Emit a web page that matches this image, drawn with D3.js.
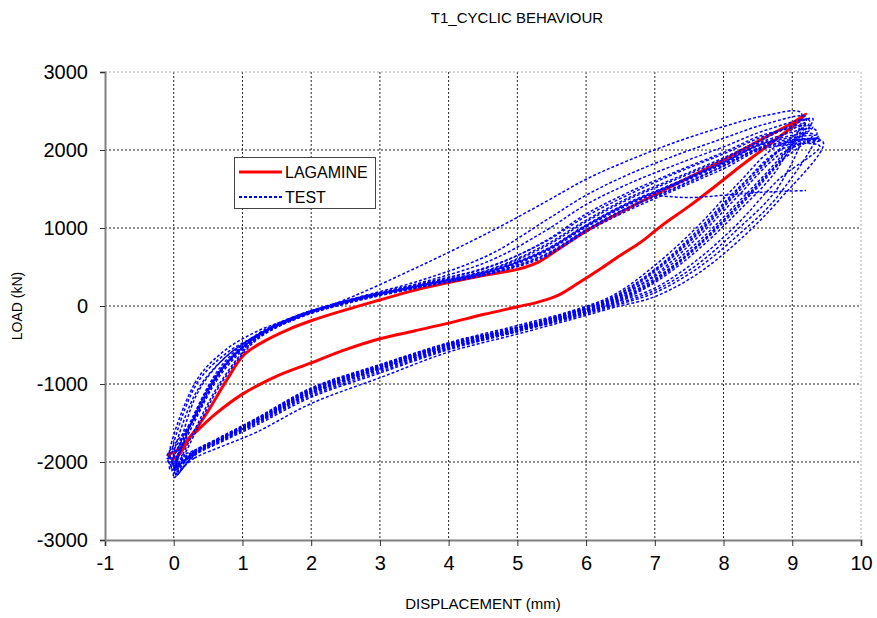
<!DOCTYPE html>
<html>
<head>
<meta charset="utf-8">
<script src="https://cdn.jsdelivr.net/npm/d3@7/dist/d3.min.js"></script>
<style>
  body { margin: 0; background: #fff; }
  text { font-family: "Liberation Sans", Arial, sans-serif; fill: #000; }
</style>
</head>
<body>
<script>
// tick labels
const xTicks = [-1, 0, 1, 2, 3, 4, 5, 6, 7, 8, 9, 10]
const yTicks = [-3000, -2000, -1000, 0, 1000, 2000, 3000]

// LAGAMINE simulation, one closed loop [displacement mm, load kN]
const lagamine = [
  [-0.08, -1900], [-0.02, -1960], [0.1, -1880], [0.24, -1680], [0.34, -1600],
  [0.6, -1390], [1.0, -1130], [1.5, -900], [2.0, -730], [2.5, -560],
  [3.0, -420], [3.5, -320], [4.0, -220], [4.5, -110], [5.0, -10],
  [5.3, 50], [5.6, 140], [5.9, 300], [6.2, 470], [6.5, 650],
  [6.8, 820], [7.1, 1030], [7.5, 1280], [7.9, 1550], [8.2, 1760],
  [8.5, 1960], [8.8, 2160], [9.0, 2300], [9.2, 2460],
  [9.03, 2363], [8.5, 2110], [8.0, 1870], [7.5, 1650], [7.04, 1445],
  [6.5, 1200], [6.0, 960], [5.6, 730], [5.3, 560], [5.0, 470],
  [4.5, 390], [4.0, 300], [3.5, 200], [3.0, 77], [2.5, -50],
  [2.03, -180], [1.65, -308], [1.3, -460], [1.02, -628], [0.77, -950],
  [0.48, -1375], [0.28, -1630], [0.12, -1800], [0.0, -1880]
]

// TEST cycles: loading branch x-grid, unloading branch x-grid
const testLowerX = [0.3, 0.7, 1.2, 2, 3, 4, 5, 5.8, 6.4, 7, 7.6, 8.2, 8.8]
const testUpperX = [8.6, 8.0, 7.3, 6.6, 6.0, 5.4, 4.6, 3.6, 2.6, 1.8, 1.2, 0.7, 0.3]

const testMins = [
  [0, -2050], [-0.05, -2100], [0.02, -2150], [-0.08, -2000], [0, -2200],
  [-0.1, -1950], [0.05, -2120], [-0.03, -2080], [0.03, -2180], [-0.06, -2020],
  [0.01, -2100], [-0.04, -2060], [0.04, -2160], [-0.02, -2120]
]
const testPeaks = [
  [9.13, 2474], [9.2, 2420], [9.25, 2380], [9.3, 2300], [9.35, 2250],
  [9.4, 2150], [9.45, 2100], [9.3, 2200], [9.4, 2050], [9.2, 2350],
  [9.3, 2400], [9.38, 2180], [9.15, 2300], [9.42, 2120]
]
const testLowerY = [
  [-1900, -1720, -1500, -1130, -820, -540, -320, -130, 30, 300, 700, 1200, 1780],
  [-1880, -1700, -1480, -1100, -790, -510, -300, -110, 60, 330, 760, 1280, 1850],
  [-1860, -1680, -1450, -1060, -760, -480, -270, -80, 100, 380, 800, 1320, 1880],
  [-1870, -1690, -1460, -1080, -770, -490, -280, -90, 90, 440, 900, 1450, 1980],
  [-1920, -1740, -1530, -1170, -860, -560, -330, -150, 0, 170, 470, 900, 1420],
  [-1850, -1670, -1440, -1050, -750, -470, -250, -60, 140, 520, 1000, 1560, 2060],
  [-1950, -1800, -1620, -1250, -920, -590, -360, -170, -20, 120, 400, 820, 1350],
  [-1880, -1700, -1470, -1090, -780, -500, -290, -100, 70, 350, 760, 1280, 1830],
  [-1900, -1710, -1490, -1110, -800, -520, -310, -120, 40, 230, 580, 1050, 1620],
  [-1860, -1690, -1460, -1070, -770, -490, -280, -70, 120, 470, 950, 1500, 2000],
  [-1890, -1710, -1490, -1120, -810, -530, -315, -125, 45, 320, 740, 1250, 1820],
  [-1870, -1690, -1470, -1090, -785, -505, -295, -95, 80, 400, 860, 1400, 1930],
  [-1910, -1730, -1510, -1150, -840, -550, -325, -140, 15, 200, 520, 980, 1530],
  [-1865, -1685, -1455, -1075, -765, -485, -275, -85, 110, 460, 920, 1480, 1990]
]
const testUpperY = [
  [2440, 2300, 2100, 1860, 1625, 1330, 950, 520, 120, -150, -380, -700, -1150],
  [2330, 2150, 1930, 1680, 1420, 1090, 660, 330, 90, -130, -380, -650, -1050],
  [2250, 2040, 1810, 1560, 1300, 960, 580, 300, 80, -140, -400, -800, -1400],
  [2200, 1970, 1720, 1450, 1180, 830, 500, 280, 70, -150, -410, -830, -1450],
  [2120, 1880, 1620, 1360, 1080, 760, 460, 270, 80, -130, -390, -800, -1420],
  [2080, 1830, 1560, 1300, 1020, 700, 440, 260, 70, -140, -400, -820, -1440],
  [2050, 1800, 1520, 1260, 980, 660, 420, 250, 60, -150, -420, -950, -1600],
  [2100, 1850, 1580, 1320, 1040, 720, 450, 265, 75, -120, -370, -760, -1380],
  [2020, 1760, 1490, 1220, 950, 630, 410, 240, 50, -160, -440, -980, -1650],
  [2060, 1820, 1550, 1290, 1010, 690, 430, 255, 65, -135, -330, -600, -1000],
  [2150, 1900, 1640, 1380, 1100, 780, 470, 275, 85, -125, -385, -790, -1410],
  [2090, 1840, 1570, 1310, 1030, 710, 445, 262, 72, -138, -398, -815, -1435],
  [2180, 1950, 1700, 1420, 1150, 820, 510, 290, 90, -120, -380, -700, -1200],
  [2040, 1790, 1510, 1250, 970, 650, 415, 248, 58, -152, -425, -860, -1490]
]
// a short partial unloading trace near the peak
const testPartial = [[7.0, 1420], [7.5, 1390], [8.0, 1420], [8.6, 1460], [9.2, 1480]]

const m = {
  width: 877,
  height: 618,
  left: 105,
  right: 861,
  top: 72,
  bottom: 540
}

const svg = d3.select('body').append('svg')
  .attr('width', m.width)
  .attr('height', m.height)

const x = d3.scaleLinear().domain([-1, 10]).range([m.left, m.right])
const y = d3.scaleLinear().domain([-3000, 3000]).range([m.bottom, m.top])

// grid
const grid = svg.append('g')
grid.selectAll('.vg')
  .data(xTicks.slice(1))
  .enter()
  .append('line')
    .attr('x1', d => x(d)).attr('x2', d => x(d))
    .attr('y1', m.top).attr('y2', m.bottom)
    .attr('stroke', d => d === 10 ? '#b0b0b0' : '#222')
    .attr('stroke-dasharray', '2,2')
grid.selectAll('.hg')
  .data(yTicks.slice(1))
  .enter()
  .append('line')
    .attr('x1', m.left).attr('x2', m.right)
    .attr('y1', d => y(d)).attr('y2', d => y(d))
    .attr('stroke', d => d === 3000 ? '#b0b0b0' : '#222')
    .attr('stroke-dasharray', '2,2')

// axes (plain hyphen minus, no thousands separator)
const fmt = d => String(d)
const xAxis = svg.append('g')
  .attr('transform', `translate(0,${m.bottom})`)
  .call(d3.axisBottom(x).tickValues(xTicks).tickFormat(fmt).tickSize(6).tickPadding(10))
const yAxis = svg.append('g')
  .attr('transform', `translate(${m.left},0)`)
  .call(d3.axisLeft(y).tickValues(yTicks).tickFormat(fmt).tickSize(5).tickPadding(12))

;[xAxis, yAxis].forEach(a => {
  a.select('.domain').attr('stroke', '#808080').attr('stroke-width', 2)
  a.selectAll('.tick line').attr('stroke', '#333')
  a.selectAll('.tick text')
    .style('font-family', '"Liberation Sans", Arial, sans-serif')
    .style('font-size', '20px')
    .attr('fill', '#000')
})

const line = d3.line()
  .x(d => x(d[0]))
  .y(d => y(d[1]))
  .curve(d3.curveCatmullRomClosed)

// LAGAMINE (drawn first, the test traces sit over it)
svg.append('path')
  .attr('d', line(lagamine))
  .attr('fill', 'none')
  .attr('stroke', '#ff0000')
  .attr('stroke-width', 3)

// build each test cycle from its arrays
const cycles = testMins.map((mn, i) => {
  const pts = [mn]
  testLowerX.forEach((xv, j) => pts.push([xv, testLowerY[i][j]]))
  pts.push(testPeaks[i])
  testUpperX.forEach((xv, j) => pts.push([xv, testUpperY[i][j]]))
  return pts
})

svg.append('g').selectAll('path')
  .data(cycles)
  .enter()
  .append('path')
    .attr('d', line)
    .attr('fill', 'none')
    .attr('stroke', '#0000ff')
    .attr('stroke-width', 1.5)
    .attr('stroke-dasharray', '3,2')

svg.append('path')
  .attr('d', d3.line().x(d => x(d[0])).y(d => y(d[1])).curve(d3.curveCatmullRom)(testPartial))
  .attr('fill', 'none')
  .attr('stroke', '#0000ff')
  .attr('stroke-width', 1.5)
  .attr('stroke-dasharray', '3,2')

// legend
const lg = svg.append('g').attr('transform', 'translate(234,157)')
lg.append('rect')
  .attr('x', 0.5).attr('y', 0.5)
  .attr('width', 141).attr('height', 51)
  .attr('fill', '#fff')
  .attr('stroke', '#444')
lg.append('line')
  .attr('x1', 5).attr('x2', 48).attr('y1', 15).attr('y2', 15)
  .attr('stroke', '#ff0000').attr('stroke-width', 3)
lg.append('text').attr('x', 51).attr('y', 21).style('font-size', '16px').text('LAGAMINE')
lg.append('line')
  .attr('x1', 5).attr('x2', 48).attr('y1', 40).attr('y2', 40)
  .attr('stroke', '#0000ff').attr('stroke-width', 2).attr('stroke-dasharray', '3,2')
lg.append('text').attr('x', 51).attr('y', 46).style('font-size', '16px').text('TEST')

// titles
svg.append('text')
  .attr('x', 517).attr('y', 23)
  .attr('text-anchor', 'middle')
  .style('font-size', '15px')
  .text('T1_CYCLIC BEHAVIOUR')
svg.append('text')
  .attr('x', 483).attr('y', 609)
  .attr('text-anchor', 'middle')
  .style('font-size', '15px')
  .text('DISPLACEMENT (mm)')
svg.append('text')
  .attr('transform', 'translate(22,306) rotate(-90)')
  .attr('text-anchor', 'middle')
  .style('font-size', '14px')
  .text('LOAD (kN)')
</script>
</body>
</html>
